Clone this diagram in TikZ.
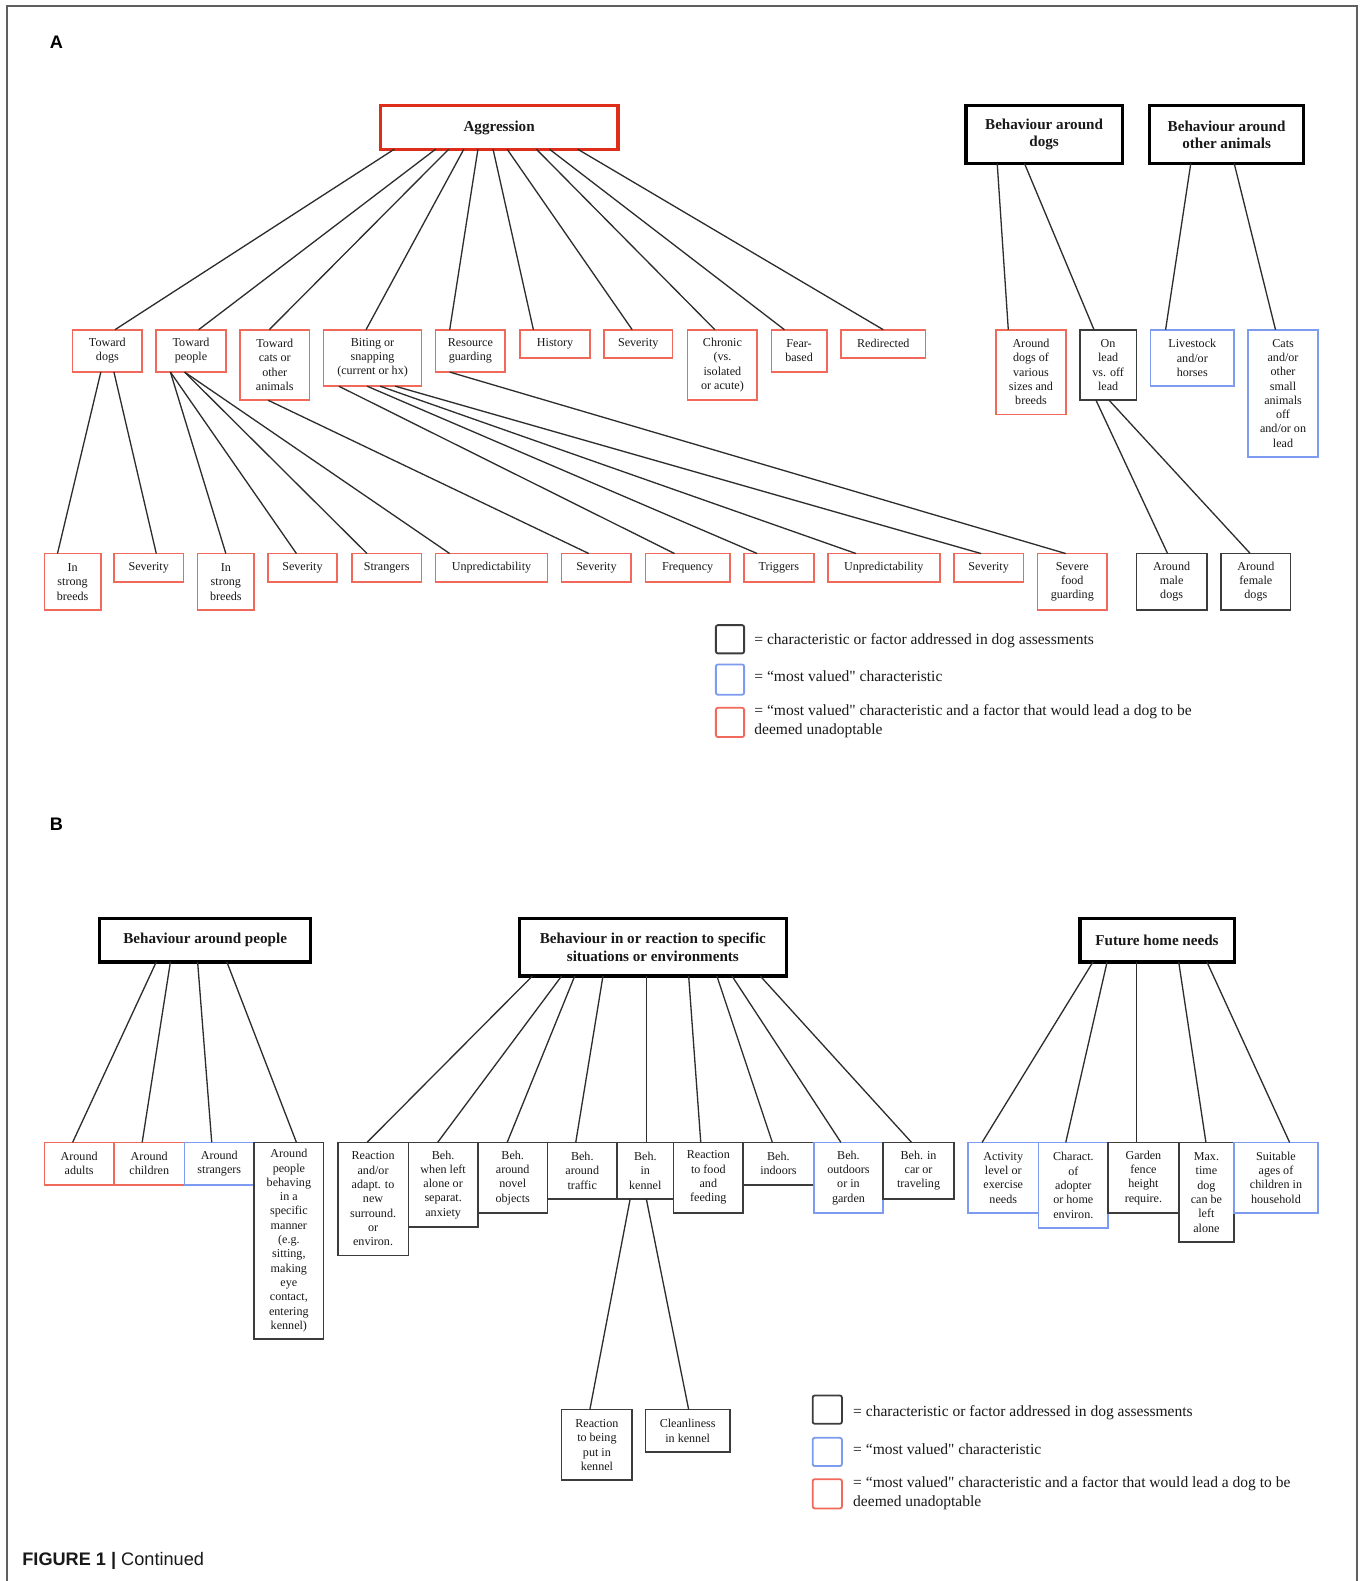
\documentclass[tikz,border=0pt]{standalone}
\usepackage{fontspec}
\setmainfont{Liberation Serif}
\newfontfamily\plainserif{Liberation Serif}
\newfontfamily\capsans{Liberation Sans}
\definecolor{boxred}{RGB}{240,105,90}
\definecolor{boxblue}{RGB}{125,155,240}
\definecolor{boxblack}{RGB}{60,60,60}
\definecolor{aggred}{RGB}{222,45,25}
\definecolor{linecol}{RGB}{45,45,45}
\definecolor{txt}{RGB}{25,25,25}
\definecolor{framecol}{RGB}{95,95,95}
\newcommand\bodyfont{\fontsize{12}{14.2}\selectfont}
\newcommand\hdrfont{\fontsize{15}{17}\selectfont\bfseries}
\newcommand\lgfont{\plainserif\fontsize{15.4}{19}\selectfont}
\newcommand\placebox[7][]{%
  \node[#1, minimum width={(#5)-(#3)}, minimum height={(#6)-(#4)}] (#2) at ({((#3)+(#5))/2},{((#4)+(#6))/2}) {#7};}
\newcommand\link[4]{\draw[conn] ([xshift=#2]#1.south) -- ([xshift=#4]#3.north);}
\tikzset{
  base/.style={inner sep=1pt, outer sep=0pt, align=center, text=txt},
  rbox/.style={base, draw=boxred, line width=1.6pt, font=\bodyfont},
  bbox/.style={base, draw=boxblue, line width=1.6pt, font=\bodyfont},
  kbox/.style={base, draw=boxblack, line width=1.6pt, font=\bodyfont},
  hdr/.style={base, draw=black, line width=3.2pt, font=\hdrfont},
  lgbox/.style={base, line width=1.8pt, rounded corners=2pt},
  lgtext/.style={inner sep=0pt, anchor=west, align=left, font=\lgfont, text=txt},
  conn/.style={draw=linecol, line width=1.3pt},
  panel/.style={inner sep=0pt, font=\capsans\fontsize{18}{20}\selectfont\bfseries},
}
\begin{document}
\begin{tikzpicture}[x=1pt,y=-1pt]
\useasboundingbox[fill=white] (0,0) rectangle (1352,1568);
\draw[framecol, line width=1.5pt] (7,1568) -- (7,6) -- (1346,6) -- (1346,1568);

% ---------------- Panel A ----------------
\node[panel] (labA) at (56,42) {A};
\placebox[hdr, draw=aggred]{agg}{377}{105}{613}{148}{Aggression}
\placebox[hdr]{bad}{958}{105}{1113}{162}{Behaviour around\\dogs}
\placebox[hdr]{boa}{1140}{105}{1293}{162}{Behaviour around\\other animals}

\placebox[rbox]{td}{72}{327}{141}{369}{Toward\\dogs}
\placebox[rbox]{tp}{155}{327}{224}{369}{Toward\\people}
\placebox[rbox]{tc}{238}{327}{307}{397}{Toward\\cats or\\other\\animals}
\placebox[rbox]{bs}{321}{327}{418}{383}{Biting or\\snapping\\(current or hx)}
\placebox[rbox]{rg}{432}{327}{501}{369}{Resource\\guarding}
\placebox[rbox]{hi}{516}{327}{585}{355}{History}
\placebox[rbox]{sv}{599}{327}{667}{355}{Severity}
\placebox[rbox]{ch}{682}{327}{751}{397}{Chronic\\(vs.\\isolated\\or acute)}
\placebox[rbox]{fb}{765}{327}{820}{369}{Fear-\\based}
\placebox[rbox]{rd}{834}{327}{918}{355}{Redirected}
\placebox[rbox]{ad}{988}{327}{1057}{411}{Around\\dogs of\\various\\sizes and\\breeds}
\placebox[kbox]{ol}{1071}{327}{1127}{397}{On\\lead\\vs. off\\lead}
\placebox[bbox]{ls}{1141}{327}{1224}{383}{Livestock\\and/or\\horses}
\placebox[bbox]{ca}{1238}{327}{1307}{453}{Cats\\and/or\\other\\small\\animals\\off\\and/or on\\lead}

\placebox[rbox]{isa}{44}{549}{100}{605}{In\\strong\\breeds}
\placebox[rbox]{sva}{113}{549}{182}{577}{Severity}
\placebox[rbox]{isb}{196}{549}{252}{605}{In\\strong\\breeds}
\placebox[rbox]{svb}{266}{549}{334}{577}{Severity}
\placebox[rbox]{st}{349}{549}{418}{577}{Strangers}
\placebox[rbox]{una}{432}{549}{543}{577}{Unpredictability}
\placebox[rbox]{svc}{557}{549}{626}{577}{Severity}
\placebox[rbox]{fr}{640}{549}{724}{577}{Frequency}
\placebox[rbox]{tr}{738}{549}{807}{577}{Triggers}
\placebox[rbox]{unb}{821}{549}{932}{577}{Unpredictability}
\placebox[rbox]{svd}{946}{549}{1015}{577}{Severity}
\placebox[rbox]{sfg}{1029}{549}{1098}{605}{Severe\\food\\guarding}
\placebox[kbox]{md}{1127}{549}{1197}{605}{Around\\male\\dogs}
\placebox[kbox]{fd}{1211}{549}{1280}{605}{Around\\female\\dogs}

\link{agg}{-104}{td}{7.5}
\link{agg}{-63}{tp}{7.5}
\link{agg}{-50}{tc}{-5.5}
\link{agg}{-35}{bs}{-6.5}
\link{agg}{-21}{rg}{-20.5}
\link{agg}{-6}{hi}{-21.5}
\link{agg}{8}{sv}{-6}
\link{agg}{37}{ch}{-7.5}
\link{agg}{50}{fb}{-14.5}
\link{agg}{78}{rd}{0}
\link{bad}{-46.5}{ad}{-22.5}
\link{bad}{-19.5}{ol}{-14}
\link{boa}{-35.5}{ls}{-26.5}
\link{boa}{7.5}{ca}{-7.5}

\link{td}{-6.5}{isa}{-15}
\link{td}{6.5}{sva}{7.5}
\link{tp}{-20.5}{isb}{0}
\link{tp}{-20.5}{svb}{-6}
\link{tp}{-6.5}{st}{-19.5}
\link{tp}{-6.5}{una}{-41.5}
\link{tc}{-6.5}{svc}{-7.5}
\link{bs}{-33.5}{fr}{-13}
\link{bs}{-5.5}{tr}{-21.5}
\link{bs}{7.5}{unb}{-27.5}
\link{bs}{22.5}{svd}{-7.5}
\link{rg}{-20.5}{sfg}{-6.5}
\link{ol}{-12}{md}{-4}
\link{ol}{1}{fd}{-5.5}

\placebox[lgbox, draw=boxblack]{lka}{710}{620}{738}{648}{}
\placebox[lgbox, draw=boxblue]{lba}{710}{659}{738}{689}{}
\placebox[lgbox, draw=boxred]{lra}{710}{702}{738}{731}{}
\node[lgtext] (tka) at (748,635) {= characteristic or factor addressed in dog assessments};
\node[lgtext] (tba) at (748,671) {= “most valued" characteristic};
\node[lgtext] (tra) at (748,715) {= “most valued" characteristic and a factor that would lead a dog to be\\deemed unadoptable};

% ---------------- Panel B ----------------
\node[panel] (labB) at (56,817) {B};
\placebox[hdr]{bap}{99}{911}{308}{954}{Behaviour around people}
\placebox[hdr]{brs}{515}{911}{780}{968}{Behaviour in or reaction to specific\\situations or environments}
\placebox[hdr]{fhn}{1071}{911}{1224}{954}{Future home needs}

\placebox[rbox]{aa}{44}{1133}{113}{1175}{Around\\adults}
\placebox[rbox]{ac}{113}{1133}{183}{1175}{Around\\children}
\placebox[bbox]{as}{183}{1133}{252}{1175}{Around\\strangers}
\placebox[kbox]{ap}{252}{1133}{321}{1328}{Around\\people\\behaving\\in a\\specific\\manner\\(e.g.\\sitting,\\making\\eye\\contact,\\entering\\kennel)}

\placebox[kbox]{ra}{335}{1133}{405}{1245}{Reaction\\and/or\\adapt. to\\new\\surround.\\or\\environ.}
\placebox[kbox]{rb}{405}{1133}{474}{1217}{Beh.\\when left\\alone or\\separat.\\anxiety}
\placebox[kbox]{rc}{474}{1133}{543}{1203}{Beh.\\around\\novel\\objects}
\placebox[kbox]{rdd}{543}{1133}{612}{1189}{Beh.\\around\\traffic}
\placebox[kbox]{re}{612}{1133}{668}{1189}{Beh.\\in\\kennel}
\placebox[kbox]{rf}{668}{1133}{737}{1203}{Reaction\\to food\\and\\feeding}
\placebox[kbox]{rgg}{737}{1133}{807}{1175}{Beh.\\indoors}
\placebox[bbox]{rh}{807}{1133}{876}{1203}{Beh.\\outdoors\\or in\\garden}
\placebox[kbox]{ri}{876}{1133}{946}{1189}{Beh. in\\car or\\traveling}
\placebox[kbox]{ka}{557}{1398}{627}{1468}{Reaction\\to being\\put in\\kennel}
\placebox[kbox]{kb}{640}{1398}{724}{1440}{Cleanliness\\in kennel}

\placebox[bbox]{fa}{960}{1133}{1030}{1203}{Activity\\level or\\exercise\\needs}
\placebox[bbox]{fbb}{1030}{1133}{1099}{1218}{Charact.\\of\\adopter\\or home\\environ.}
\placebox[kbox]{fc}{1099}{1133}{1169}{1203}{Garden\\fence\\height\\require.}
\placebox[kbox]{fdd}{1169}{1133}{1224}{1232}{Max.\\time\\dog\\can be\\left\\alone}
\placebox[bbox]{fe}{1224}{1133}{1307}{1203}{Suitable\\ages of\\children in\\household}

\link{bap}{-48.5}{aa}{-6.5}
\link{bap}{-34.5}{ac}{-7}
\link{bap}{-7.5}{as}{-7.5}
\link{bap}{21.5}{ap}{7.5}

\link{brs}{-119.5}{ra}{-6}
\link{brs}{-90.5}{rb}{-5.5}
\link{brs}{-77.5}{rc}{-5.5}
\link{brs}{-49.5}{rdd}{-6.5}
\link{brs}{-6.5}{re}{1}
\link{brs}{35.5}{rf}{-7.5}
\link{brs}{63.5}{rgg}{-6}
\link{brs}{78.5}{rh}{-7.5}
\link{brs}{106.5}{ri}{-7}
\link{re}{-15}{ka}{-7}
\link{re}{1}{kb}{1}

\link{fhn}{-63.5}{fa}{-21}
\link{fhn}{-49.5}{fbb}{-7.5}
\link{fhn}{-20.5}{fc}{-7}
\link{fhn}{21.5}{fdd}{-0.5}
\link{fhn}{49.5}{fe}{13.5}

\placebox[lgbox, draw=boxblack]{lkb}{806}{1384}{835}{1412}{}
\placebox[lgbox, draw=boxblue]{lbb}{806}{1426}{835}{1454}{}
\placebox[lgbox, draw=boxred]{lrb}{806}{1467}{835}{1496}{}
\node[lgtext] (tkb) at (846,1401) {= characteristic or factor addressed in dog assessments};
\node[lgtext] (tbb) at (846,1437) {= “most valued" characteristic};
\node[lgtext] (trb) at (846,1481) {= “most valued" characteristic and a factor that would lead a dog to be\\deemed unadoptable};

\node[anchor=west, inner sep=0pt, text=txt, font=\capsans\fontsize{18}{20}\selectfont] (cap) at (22,1548) {\textbf{FIGURE 1 |} Continued};
\end{tikzpicture}
\end{document}
